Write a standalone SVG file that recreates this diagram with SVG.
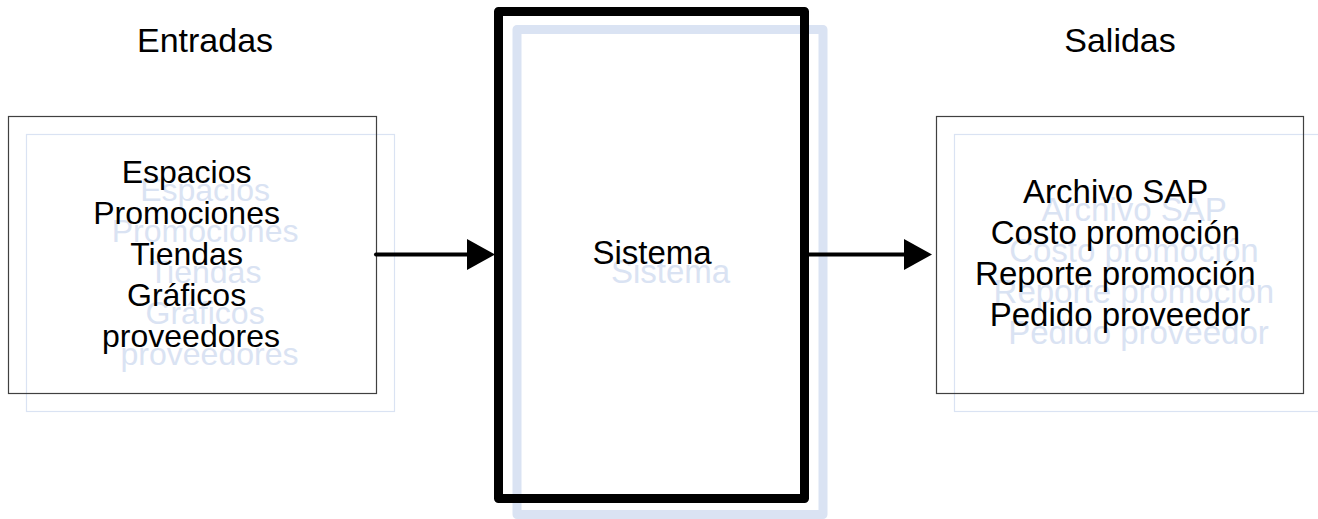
<svg xmlns="http://www.w3.org/2000/svg" width="1318" height="519" viewBox="0 0 1318 519">
  <defs>
    <style>
      text { font-family: "Liberation Sans", Arial, sans-serif; text-anchor: middle; }
      .title { font-size: 34px; fill: #000; }
      .lbl { font-size: 32px; fill: #000; }
      .lbl-sh { font-size: 32px; fill: #dae3f3; }
      .big { font-size: 33px; }
      .box { fill: none; stroke: #404040; stroke-width: 1.2; }
      .box-sh { fill: none; stroke: #dae3f3; stroke-width: 1.2; }
      .sys { fill: none; stroke: #000; stroke-width: 9; stroke-linejoin: round; }
      .sys-sh { fill: none; stroke: #dae3f3; stroke-width: 9; stroke-linejoin: round; }
      .flow { fill: none; stroke: #000; stroke-width: 4; stroke-linecap: round; }
    </style>
    <marker id="head" markerUnits="userSpaceOnUse" markerWidth="28" markerHeight="31" viewBox="0 0 28 31" refX="0" refY="15.5" orient="auto">
      <path d="M0,0 L28,15.5 L0,31 Z" fill="#000"/>
    </marker>
  </defs>

  <rect width="1318" height="519" fill="#fff"/>

  <!-- column headings -->
  <text class="title" x="205" y="52">Entradas</text>
  <text class="title" x="1120" y="52">Salidas</text>

  <!-- inputs -->
  <g id="entradas">
    <rect class="box-sh" x="26.5" y="134.5" width="368" height="277"/>
    <text class="lbl-sh" x="209.5">
      <tspan x="209.5" y="201">Espacios</tspan>
      <tspan x="209.5" y="242">Promociones</tspan>
      <tspan x="209.5" y="283">Tiendas</tspan>
      <tspan x="209.5" y="324">Gráficos</tspan>
      <tspan x="209.5" y="365">proveedores</tspan>
    </text>
    <rect class="box" x="8.5" y="116.5" width="368" height="277"/>
    <text class="lbl" x="191">
      <tspan x="191" y="182.5">Espacios</tspan>
      <tspan x="191" y="223.5">Promociones</tspan>
      <tspan x="191" y="264.5">Tiendas</tspan>
      <tspan x="191" y="305.5">Gráficos</tspan>
      <tspan x="191" y="346.5">proveedores</tspan>
    </text>
  </g>

  <!-- system -->
  <g id="sistema">
    <rect class="sys-sh" x="517" y="29.5" width="306" height="485"/>
    <text class="lbl-sh big" x="670.5" y="282.5">Sistema</text>
    <rect class="sys" x="498.5" y="11.5" width="306" height="487"/>
    <text class="lbl big" x="652" y="264">Sistema</text>
  </g>

  <!-- outputs -->
  <g id="salidas">
    <rect class="box-sh" x="954.5" y="134.5" width="368" height="277"/>
    <text class="lbl-sh big" x="1138.5">
      <tspan x="1138.5" y="221">Archivo SAP</tspan>
      <tspan x="1138.5" y="262">Costo promoción</tspan>
      <tspan x="1138.5" y="303">Reporte promoción</tspan>
      <tspan x="1138.5" y="344">Pedido proveedor</tspan>
    </text>
    <rect class="box" x="936.5" y="116.5" width="367" height="277"/>
    <text class="lbl big" x="1120">
      <tspan x="1120" y="202.5">Archivo SAP</tspan>
      <tspan x="1120" y="243.5">Costo promoción</tspan>
      <tspan x="1120" y="284.5">Reporte promoción</tspan>
      <tspan x="1120" y="325.5">Pedido proveedor</tspan>
    </text>
  </g>

  <!-- connectors -->
  <g id="connectors">
    <line class="flow" x1="376" y1="254.5" x2="467" y2="254.5" marker-end="url(#head)"/>
    <line class="flow" x1="808" y1="254.5" x2="904" y2="254.5" marker-end="url(#head)"/>
  </g>
</svg>
